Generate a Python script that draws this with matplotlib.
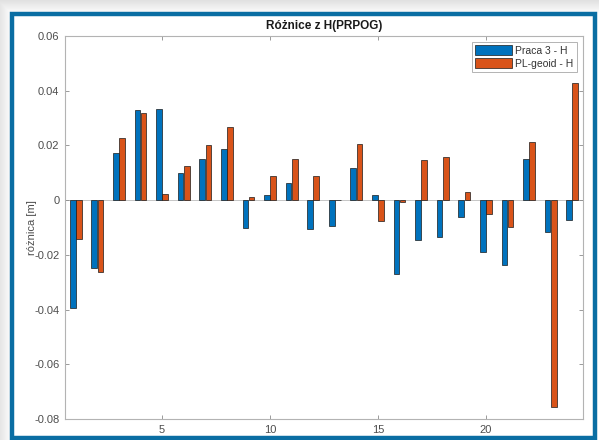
import numpy as np
import matplotlib
matplotlib.use("Agg")
import matplotlib.pyplot as plt
from matplotlib.patches import Rectangle

# ---- data ----
points = list(range(1, 25))
praca3_h = [-0.0396, -0.0247, 0.0171, 0.0329, 0.0332, 0.0100, 0.0151, 0.0186,
            -0.0102, 0.0020, 0.0063, -0.0106, -0.0094, 0.0116, 0.0018, -0.0271,
            -0.0146, -0.0134, -0.0061, -0.0189, -0.0238, 0.0152, -0.0116, -0.0073]
plgeoid_h = [-0.0143, -0.0262, 0.0228, 0.0318, 0.0024, 0.0123, 0.0202, 0.0267,
             0.0011, 0.0088, 0.0149, 0.0088, 0.0000, 0.0205, -0.0075, -0.0008,
             0.0146, 0.0158, 0.0028, -0.0052, -0.0100, 0.0212, -0.0756, 0.0429]
series_names = ["Praca 3 - H", "PL-geoid - H"]
title = "Różnice z H(PRPOG)"
ylabel = "różnica [m]"
yticks = [-0.08, -0.06, -0.04, -0.02, 0, 0.02, 0.04, 0.06]
ytick_labels = ["-0.08", "-0.06", "-0.04", "-0.02", "0", "0.02", "0.04", "0.06"]
xticks = [5, 10, 15, 20]

plt.rcParams['font.family'] = ['Liberation Sans', 'DejaVu Sans']

W, H = 599, 440
fig = plt.figure(figsize=(W / 100, H / 100), dpi=100)
fig.patch.set_facecolor("white")

# background with soft shadow (screenshot look)
bg = fig.add_axes([0, 0, 1, 1], zorder=-10)
yy = np.arange(H)[:, None]
xx = np.arange(W)[None, :]
top_sh = np.clip((14 - yy) / 14.0, 0, 1) * 0.12
left_sh = np.clip((12 - xx) / 12.0, 0, 1) * 0.10
grad = 1 - np.maximum(top_sh, left_sh)
bg.imshow(grad, cmap="gray", vmin=0, vmax=1, extent=[0, W, H, 0], aspect="auto")
bg.set_xlim(0, W)
bg.set_ylim(H, 0)
bg.axis("off")
# blue window frame
bg.add_patch(Rectangle((12, 14), 583, 424, facecolor="white",
                       edgecolor="#0a6ea3", linewidth=3.2))

ax = fig.add_axes([65 / W, (H - 419) / H, (583 - 65) / W, (419 - 36) / H])
x = np.array(points)
off = 0.143
bw = 0.26
ax.bar(x - off, praca3_h, width=bw, color="#0072BD", edgecolor="#1a1a1a",
       linewidth=0.5, label=series_names[0])
ax.bar(x + off, plgeoid_h, width=bw, color="#D95319", edgecolor="#1a1a1a",
       linewidth=0.5, label=series_names[1])

ax.set_xlim(0.5, 24.5)
ax.set_ylim(-0.08, 0.06)
ax.set_yticks(yticks)
ax.set_yticklabels(ytick_labels)
ax.set_xticks(xticks)
ax.axhline(0, color="#bdbdbd", linewidth=0.6, zorder=0)

for s in ax.spines.values():
    s.set_color("#b3b3b3")
    s.set_linewidth(0.8)
ax.tick_params(direction="in", length=3, width=0.6, color="#8a8a8a",
               labelcolor="#4d4d4d", labelsize=8, top=True, right=True, pad=4)

ax.set_title(title, fontsize=8.5, fontweight="bold", color="#1a1a1a", pad=5)
ax.set_ylabel(ylabel, fontsize=8, color="#4d4d4d", labelpad=-2)

leg = ax.legend(loc="upper right", fontsize=7.5, handlelength=3.6, handleheight=1.1,
                fancybox=False, framealpha=1, edgecolor="#b3b3b3",
                borderpad=0.3, labelspacing=0.2, handletextpad=0.3,
                borderaxespad=0.6)
for t in leg.get_texts():
    t.set_color("#333333")
leg.get_frame().set_linewidth(0.7)

fig.savefig("out.png", dpi=100)
